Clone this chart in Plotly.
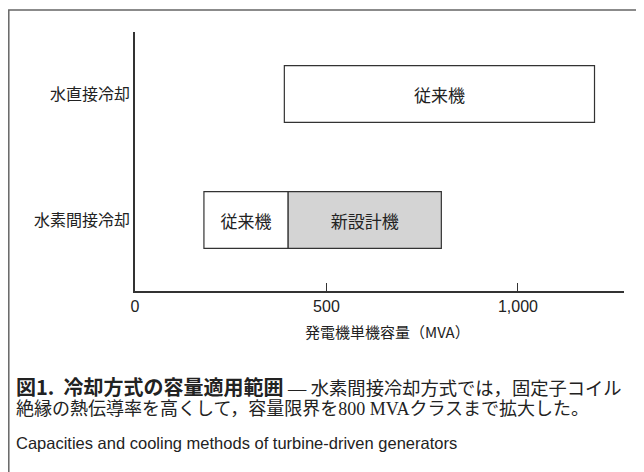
import plotly.graph_objects as go

# ---- data ----
categories = ["水素間接冷却", "水直接冷却"]
cat_pos = [0, 1]
conv_start = [180, 390]
conv_end = [400, 1200]
conv_label = ["従来機", "従来機"]
new_start = [400]
new_end = [800]
new_label = ["新設計機"]
new_cat = [0]
x_ticks = [0, 500, 1000]
x_ticktext = ["0", "500", "1,000"]

JP = "Noto Sans CJK JP"
W, H = 644, 472
OFF = 8  # page body margin
# plot area in page pixels: x 135..624, y 32..291
L = 135 - OFF
R = W - (624 - OFF)
T = 32 - OFF
B = H - (291 - OFF)
PW = W - L - R
PH = H - T - B

def px(x):
    return (x - OFF - L) / PW

def py(y):
    return 1 - (y - OFF - T) / PH

fig = go.Figure()
fig.add_trace(go.Bar(
    y=cat_pos, base=conv_start,
    x=[e - s for s, e in zip(conv_start, conv_end)],
    orientation="h", width=0.45,
    marker=dict(color="white", line=dict(color="#333333", width=1.2)),
    text=conv_label, textposition="inside", insidetextanchor="middle",
    textfont=dict(family=JP, size=17, color="#222"),
    hoverinfo="skip", showlegend=False,
))
fig.add_trace(go.Bar(
    y=new_cat, base=new_start,
    x=[e - s for s, e in zip(new_start, new_end)],
    orientation="h", width=0.45,
    marker=dict(color="#d4d4d4", line=dict(color="#333333", width=1.2)),
    text=new_label, textposition="inside", insidetextanchor="middle",
    textfont=dict(family=JP, size=17, color="#222"),
    hoverinfo="skip", showlegend=False,
))

fig.update_layout(
    width=W, height=H,
    margin=dict(l=L, r=R, t=T, b=B),
    paper_bgcolor="white", plot_bgcolor="white",
    barmode="overlay",
    font=dict(family=JP, color="#222"),
    uniformtext=dict(minsize=17, mode="show"),
    xaxis=dict(
        range=[0, 1277], tickvals=x_ticks, ticktext=x_ticktext,
        ticks="inside", ticklen=8, tickcolor="#333", tickwidth=1,
        showline=True, linecolor="#333", linewidth=1.5,
        showgrid=False, zeroline=False,
        tickfont=dict(family="Liberation Sans, " + JP, size=16, color="#222"),
    ),
    yaxis=dict(
        range=[-0.563, 1.492], tickvals=cat_pos, ticktext=categories,
        ticks="", showline=True, linecolor="#333", linewidth=1.5,
        showgrid=False, zeroline=False,
        tickfont=dict(family=JP, size=16, color="#222"),
    ),
)

# axis title
fig.add_annotation(
    text="発電機単機容量（MVA）", xref="paper", yref="paper",
    x=px(387), y=py(331), showarrow=False, xanchor="center", yanchor="middle",
    font=dict(family=JP, size=15, color="#222"),
)

# caption
cap_x = px(14)
cap_font = "Liberation Serif, " + JP
fig.add_annotation(
    text=("<span style='font-size:20px;font-family:Noto Sans CJK JP'><b>図1.  冷却方式の容量適用範囲</b></span>"
          " — 水素間接冷却方式では，固定子コイル"),
    xref="paper", yref="paper", x=cap_x, y=py(386), showarrow=False,
    xanchor="left", yanchor="middle",
    font=dict(family=cap_font, size=18.3, color="#222"),
)
fig.add_annotation(
    text="絶縁の熱伝導率を高くして，容量限界を800 MVAクラスまで拡大した。",
    xref="paper", yref="paper", x=cap_x, y=py(409), showarrow=False,
    xanchor="left", yanchor="middle",
    font=dict(family=cap_font, size=18, color="#222"),
)
fig.add_annotation(
    text="Capacities and cooling methods of turbine-driven generators",
    xref="paper", yref="paper", x=cap_x, y=py(443), showarrow=False,
    xanchor="left", yanchor="middle",
    font=dict(family="Liberation Sans", size=16.5, color="#222"),
)

# outer frame (left/top edges; right/bottom run off the page)
fig.add_shape(
    type="rect", xref="paper", yref="paper",
    x0=(0.8 - L) / PW, x1=(700 - L) / PW,
    y0=py(520), y1=py(10),
    line=dict(color="#666", width=1.5), fillcolor="rgba(0,0,0,0)", layer="below",
)

fig.write_html("out.html")
